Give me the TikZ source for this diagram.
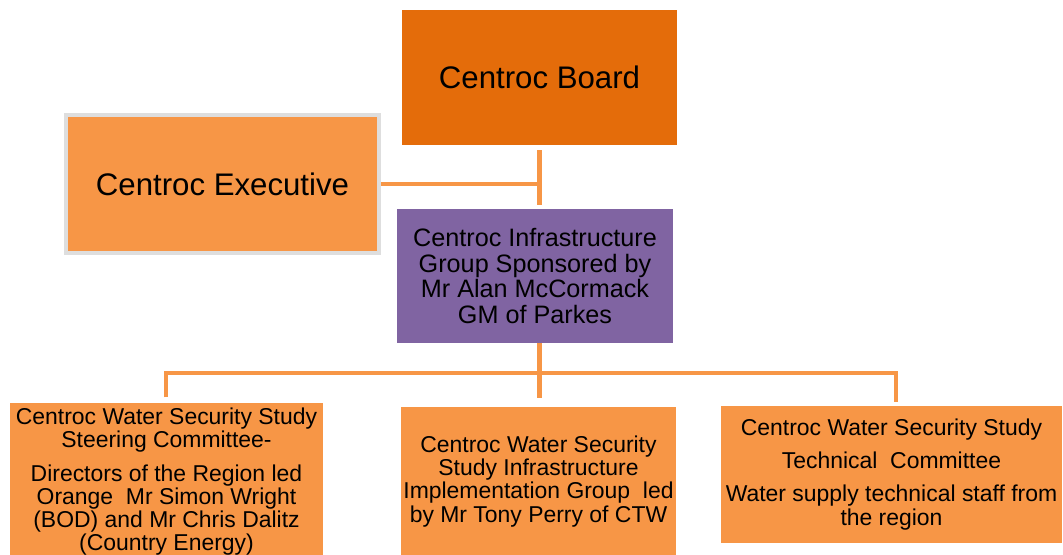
\documentclass[tikz,border=0pt]{standalone}
\usepackage{fontspec}
\setmainfont{Liberation Sans}
\definecolor{boardorange}{HTML}{E46C0A}
\definecolor{lightorange}{HTML}{F79646}
\definecolor{groupviolet}{HTML}{8064A2}
\definecolor{framegrey}{HTML}{DEDEDE}
\begin{document}
\begin{tikzpicture}[x=0.75pt,y=-0.75pt,
  box/.style={rectangle, inner sep=0pt, align=center, text=black},
  bigtext/.style={font=\fontsize{23.4}{26}\selectfont},
  midtext/.style={font=\fontsize{18.9}{19.2}\selectfont},
  smalltext/.style={font=\fontsize{17.2}{17.3}\selectfont},
  conn/.style={draw=lightorange, line width=3.6pt, line join=miter}]
\useasboundingbox (0,0) rectangle (1063,555);
\clip (0,0) rectangle (1063,555);

% top level
\node[box, bigtext, fill=boardorange, minimum width=206.25pt, minimum height=101.25pt]
  (board) at (539.5,77.5) {Centroc Board};
\node[box, bigtext, fill=lightorange, draw=framegrey, line width=3pt,
  minimum width=234.75pt, minimum height=103.5pt]
  (exec) at (222.5,184) {Centroc Executive};

% sponsoring group
\node[box, midtext, fill=groupviolet, minimum width=207pt, minimum height=100.5pt]
  (group) at (535,276) {Centroc Infrastructure\\Group Sponsored by\\Mr Alan McCormack\\GM of Parkes};

% committees
\node[box, smalltext, fill=lightorange, minimum width=234.75pt, minimum height=117.75pt]
  (steer) at (166.5,481.5) {Centroc Water Security Study\\Steering Committee-\\[8pt]Directors of the Region led\\Orange\ \ Mr Simon Wright\\(BOD) and Mr Chris Dalitz\\(Country Energy)};
\node[box, smalltext, fill=lightorange, minimum width=206.25pt, minimum height=111.75pt]
  (impl) at (538.5,481.5) {Centroc Water Security\\Study Infrastructure\\Implementation Group\ \ led\\by Mr Tony Perry of CTW};
\node[box, smalltext, fill=lightorange, minimum width=255.75pt, minimum height=102.75pt]
  (tech) at (891.5,474.5) {Centroc Water Security Study\\[7.5pt]Technical\ \ Committee\\[7.5pt]Water supply technical staff from\\the region};

% connectors
\coordinate (busL) at (166,373);
\coordinate (busR) at (896,373);
\draw[conn, shorten <=3.75pt, shorten >=3pt] (board.south) -- (board.south |- group.north);
\draw[conn] (exec.east) -- (exec.east -| board.south);
\draw[conn, shorten >=3.5pt] (board.south |- group.south) -- (board.south |- steer.north);
\draw[conn, shorten <=4pt, shorten >=3pt] (busL |- steer.north) -- (busL) -- (busR) -- (busR |- tech.north);
\end{tikzpicture}
\end{document}
